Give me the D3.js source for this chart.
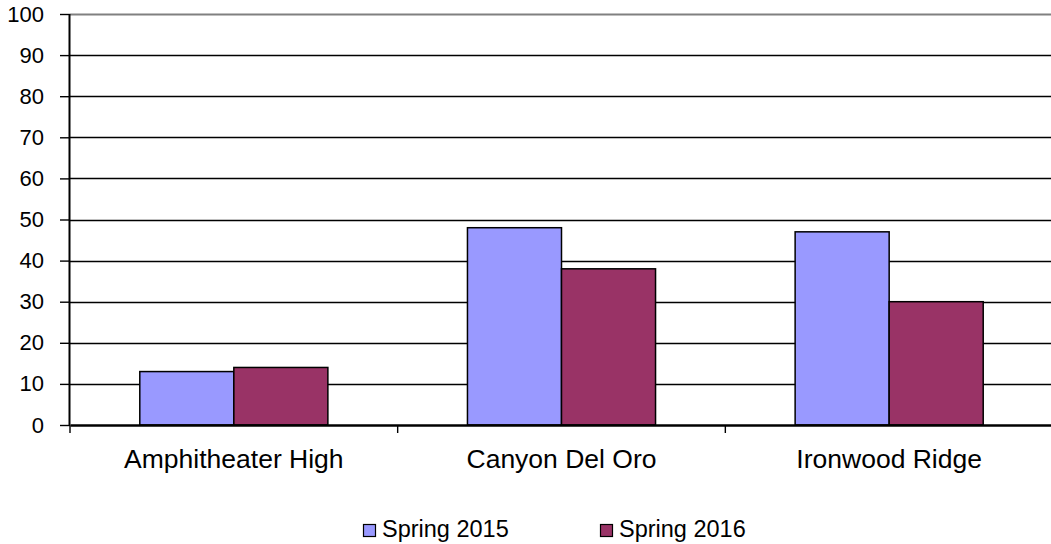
<!DOCTYPE html>
<html>
<head>
<meta charset="utf-8">
<script src="https://cdn.jsdelivr.net/npm/d3@7"></script>
<style>
  body { margin: 0; background: #fff; }
  svg text { font-family: "Liberation Sans", Arial, sans-serif; fill: #000; }
</style>
</head>
<body>
<div id="chart"></div>
<script>
// chart data
const schools = ["Amphitheater High", "Canyon Del Oro", "Ironwood Ridge"];
const seriesNames = ["Spring 2015", "Spring 2016"];
const spring2015 = [13, 48, 47];
const spring2016 = [14, 38, 30];
const yTicks = [0, 10, 20, 30, 40, 50, 60, 70, 80, 90, 100];
const colors = ["#9999ff", "#993366"];

onload = function () {
    const W = 1051, H = 544;
    const margin = {top: 14, right: -2, bottom: 119, left: 70};
    const width = W - margin.left - margin.right,
        height = H - margin.top - margin.bottom;

    const svg = d3.select("#chart")
        .append("svg")
        .attr("width", W)
        .attr("height", H);

    const g = svg.append("g")
        .attr("transform", `translate(${margin.left}, ${margin.top})`);

    const x = d3.scaleBand()
        .domain(schools)
        .range([0, width])
        .paddingInner(0.426)
        .paddingOuter(0.213);

    const xs = d3.scaleBand()
        .domain(seriesNames)
        .range([0, x.bandwidth()]);

    const y = d3.scaleLinear()
        .domain([0, 100])
        .range([height, 0]);

    // gridlines
    g.append("g")
        .selectAll("line")
        .data(yTicks.filter(d => d > 0))
        .enter()
        .append("line")
        .attr("x1", 0)
        .attr("x2", width)
        .attr("y1", d => Math.round(y(d)) + 0.5)
        .attr("y2", d => Math.round(y(d)) + 0.5)
        .attr("stroke", d => d === 100 ? "#808080" : "#000")
        .attr("stroke-width", d => d === 100 ? 2 : 1.4);

    // bars
    const data = [spring2015, spring2016];
    seriesNames.forEach((s, i) => {
        g.append("g")
            .selectAll("rect")
            .data(schools)
            .enter()
            .append("rect")
            .attr("x", d => x(d) + xs(s))
            .attr("y", (d, j) => y(data[i][j]))
            .attr("width", xs.bandwidth())
            .attr("height", (d, j) => height - y(data[i][j]))
            .attr("fill", colors[i])
            .attr("stroke", "#000")
            .attr("stroke-width", 1.5);
    });

    // y axis
    const yAxis = g.append("g")
        .call(d3.axisLeft(y).tickValues(yTicks).tickSize(10).tickPadding(16).tickFormat(d3.format("d")));
    yAxis.select(".domain").attr("stroke", "#000").attr("stroke-width", 2).attr("d", `M-0.5,0V${height}`);
    yAxis.selectAll(".tick line").attr("stroke", "#000").attr("stroke-width", 1.4);
    yAxis.selectAll("text").style("font-size", "22px");

    // x axis
    const xAxis = g.append("g")
        .attr("transform", `translate(0, ${height})`)
        .call(d3.axisBottom(x).tickSize(0).tickPadding(24));
    xAxis.select(".domain").attr("stroke", "#000").attr("stroke-width", 2.5);
    xAxis.selectAll("text").style("font-size", "26.5px");
    // category boundary ticks
    xAxis.append("g")
        .selectAll("line")
        .data([0, 1, 2])
        .enter()
        .append("line")
        .attr("x1", i => x.step() * i)
        .attr("x2", i => x.step() * i)
        .attr("y1", 0)
        .attr("y2", 8)
        .attr("stroke", "#000")
        .attr("stroke-width", 1.4);

    // legend
    const legend = svg.append("g")
        .attr("transform", "translate(363, 0)");
    const item = legend.selectAll("g")
        .data(seriesNames)
        .enter()
        .append("g")
        .attr("transform", (d, i) => `translate(${i * 237}, 0)`);
    item.append("rect")
        .attr("x", 0.5)
        .attr("y", 524.5)
        .attr("width", 12)
        .attr("height", 12)
        .attr("fill", (d, i) => colors[i])
        .attr("stroke", "#000")
        .attr("stroke-width", 1.2);
    item.append("text")
        .attr("x", 19)
        .attr("y", 537)
        .style("font-size", "23.5px")
        .text(d => d);
};
</script>
</body>
</html>
